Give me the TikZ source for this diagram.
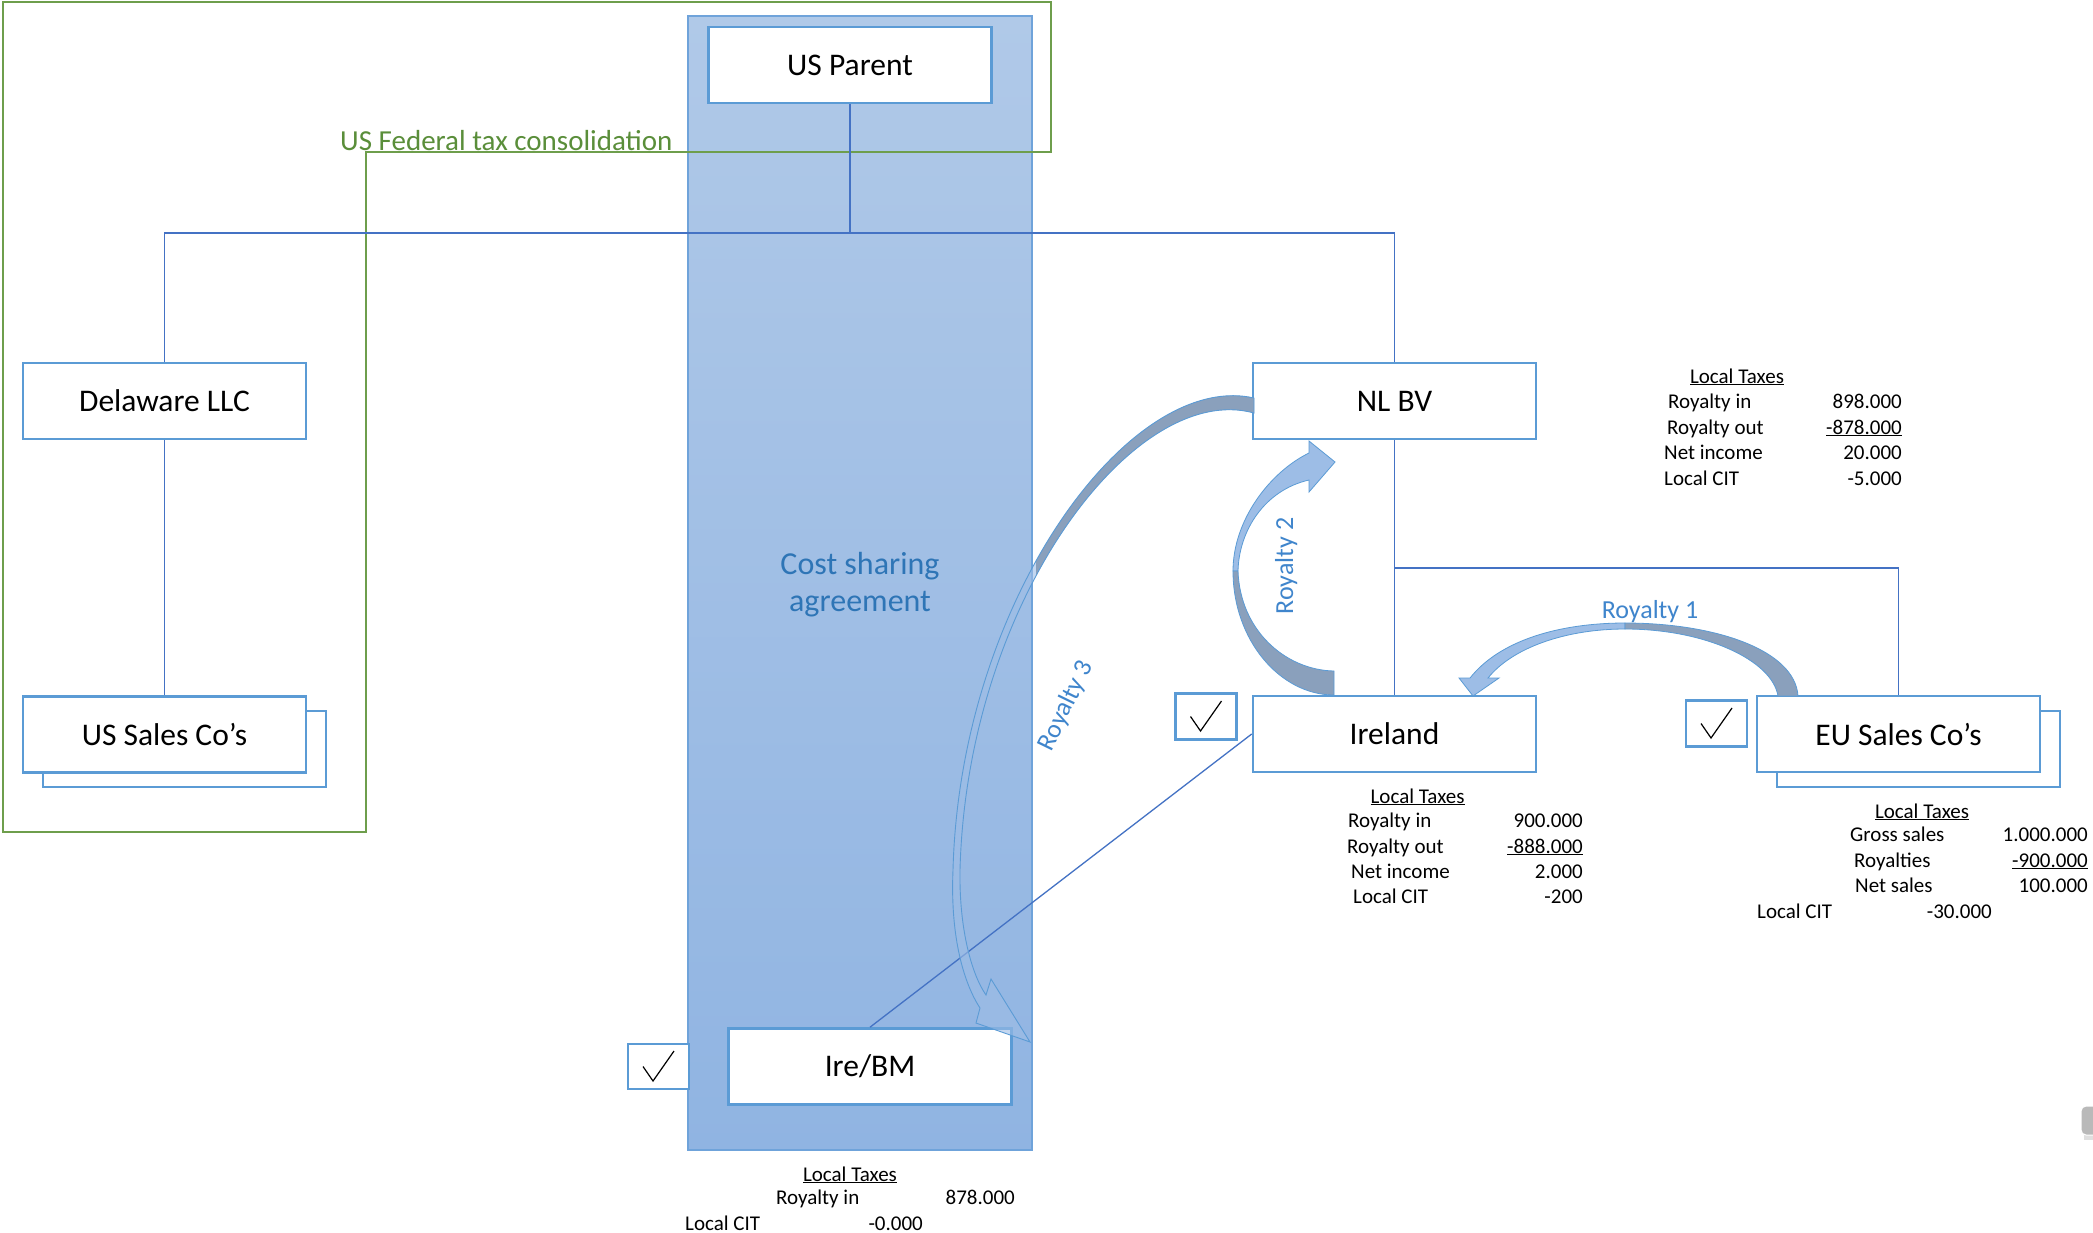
\documentclass[tikz,border=0pt]{standalone}
\usepackage{fontspec}
\setmainfont{Carlito}
\usetikzlibrary{calc}
\definecolor{boxblue}{HTML}{5B9BD5}
\definecolor{lineblue}{HTML}{4472C4}
\definecolor{grnline}{HTML}{6E9E4C}
\definecolor{grntext}{HTML}{5A8E3A}
\definecolor{colTop}{HTML}{B0C9E8}
\definecolor{colBot}{HTML}{90B4E2}
\definecolor{colEdge}{HTML}{6FA3DA}
\definecolor{arrLight}{HTML}{9DBDE6}
\definecolor{arrDark}{HTML}{8AA0BC}
\definecolor{arrEdge}{HTML}{5B9BD5}
\definecolor{txtblue}{HTML}{2E75B6}
\definecolor{roytxt}{HTML}{3F85CC}
\begin{document}
\begin{tikzpicture}[x=1pt,y=-1pt,
  entity/.style={draw=boxblue, line width=2.6pt, fill=white, minimum width=283pt, minimum height=76pt, inner sep=0pt, font=\fontsize{31.5}{36}\selectfont},
  chk/.style={draw=boxblue, line width=2.6pt, fill=white, minimum width=61pt, minimum height=46pt, inner sep=0pt},
  conn/.style={draw=lineblue, line width=1.3pt},
  tbl/.style={font=\fontsize{21}{25}\selectfont, inner sep=0pt},
  roy/.style={text=roytxt, font=\fontsize{26}{30}\selectfont, inner sep=0pt},
  arrowpart/.style={draw=arrEdge, line width=0.8pt}]
\clip (0,0) rectangle (2093,1232);
\fill[white] (0,0) rectangle (2093,1232);

% cost sharing column
\shade[top color=colTop, bottom color=colBot] (688,16) rectangle (1032,1150);
\draw[colEdge, line width=1.2pt] (688,16) rectangle (1032,1150);
\node[text=txtblue, align=center, font=\fontsize{32}{37}\selectfont] (csa) at (860,585) {Cost sharing\\agreement};

% green consolidation outline
\draw[grnline, line width=1.5pt] (3,2) -- (1051,2) -- (1051,152) -- (366,152) -- (366,832) -- (3,832) -- cycle;
\node[text=grntext, font=\fontsize{29}{33}\selectfont, anchor=base west, inner sep=0pt] (fed) at (340,150) {US Federal tax consolidation};

% shadow copies
\draw[boxblue, line width=2.6pt, fill=white] (43,711) rectangle (326,787);
\draw[boxblue, line width=2.6pt, fill=white] (1777,711) rectangle (2060,787);

% entities
\node[entity] (usp) at (850,65) {US Parent};
\node[entity] (del) at (164.5,401) {Delaware LLC};
\node[entity] (uss) at (164.5,734.5) {US Sales Co’s};
\node[entity] (nl) at (1394.5,401) {NL BV};
\node[entity] (ire) at (1394.5,734) {Ireland};
\node[entity] (eu) at (1898.5,734) {EU Sales Co’s};
\node[entity] (bm) at (870,1066.5) {Ire/BM};

% connectors
\coordinate (bus) at (850,233);
\coordinate (eubus) at (1898.5,568);
\draw[conn] (usp.south) -- (bus);
\draw[conn] (del.north) -- (del.north |- bus) -- (nl.north |- bus) -- (nl.north);
\draw[conn] (del.south) -- (uss.north);
\draw[conn] (nl.south) -- (ire.north);
\draw[conn] (nl.south |- eubus) -- (eubus) -- (eu.north);
\draw[conn] (ire.west) -- (bm.north);

% check boxes
\node[chk] (cire) at (1206,716.5) {};
\node[chk] (ceu) at (1716.5,723.5) {};
\node[chk, minimum height=45pt] (cbm) at (658.5,1066.5) {};
\foreach \c in {cire,ceu,cbm}{
  \draw[black, line width=1.2pt] ($(\c)+(-15.5,0)$) -- ++(10,14.5) -- ++(21,-30);
}

% Royalty 1 (EU -> Ireland)
\fill[arrLight, arrowpart] (1470,678) .. controls (1500,640) and (1560,623) .. (1625,623) -- (1625,629) .. controls (1565,629) and (1512,648) .. (1488,678) -- (1499,678) -- (1473,696) -- (1459,678) -- cycle;
\fill[arrDark, arrowpart] (1625,623) .. controls (1715,623) and (1795,650) .. (1798,696) -- (1778,696) .. controls (1772,660) and (1705,629) .. (1625,629) -- cycle;
\node[roy, anchor=base] (r1) at (1650,618) {Royalty 1};

% Royalty 2 (Ireland -> NL BV)
\fill[arrLight, arrowpart] (1309,453) .. controls (1270,472) and (1233,520) .. (1233,571) -- (1238,571) .. controls (1239,530) and (1265,490) .. (1309,480) -- (1309,492) -- (1335,462) -- (1309,441) -- cycle;
\fill[arrDark, arrowpart] (1233,571) .. controls (1233,640) and (1280,695) .. (1334,695) -- (1334,671) .. controls (1285,670) and (1240,630) .. (1238,571) -- cycle;
\node[roy, anchor=base, rotate=90] (r2) at (1293,566) {Royalty 2};

% Royalty 3 (NL BV -> Ire/BM)
\path[save path=\rthree] (1254,398) .. controls (1130,370) and (960,600) .. (953,870) .. controls (950,940) and (965,985) .. (980,1008) -- (976,1023) -- (1030,1042) -- (991,979) -- (986,995) .. controls (972,975) and (959,930) .. (960,870) .. controls (967,600) and (1135,380) .. (1254,413) -- cycle;
\fill[arrLight, fill opacity=0.6, use path=\rthree];
\begin{scope}
\clip (1036,380) rectangle (1270,576);
\fill[arrDark, use path=\rthree];
\end{scope}
\draw[arrEdge, line width=0.9pt, use path=\rthree];
\node[roy, rotate=64] (r3) at (1066,706) {Royalty 3};

% NL BV local taxes
\node[tbl, anchor=base] (nlh) at (1737,383) {\underline{Local Taxes}};
\node[tbl, anchor=base west] (nla) at (1668,408) {Royalty in};
\node[tbl, anchor=base west] (nlb) at (1667,434) {Royalty out};
\node[tbl, anchor=base west] (nlc) at (1664,459) {Net income};
\node[tbl, anchor=base west] (nld) at (1664,485) {Local CIT};
\node[tbl, anchor=base east] (nlva) at (1902,408) {898.000};
\node[tbl, anchor=base east] (nlvb) at (1902,434) {\underline{-878.000}};
\node[tbl, anchor=base east] (nlvc) at (1902,459) {20.000};
\node[tbl, anchor=base east] (nlvd) at (1902,485) {-5.000};

% Ireland local taxes
\node[tbl, anchor=base] (irh) at (1417.6,803) {\underline{Local Taxes}};
\node[tbl, anchor=base west] (ira) at (1348,827) {Royalty in};
\node[tbl, anchor=base west] (irb) at (1347,853) {Royalty out};
\node[tbl, anchor=base west] (irc) at (1351,878) {Net income};
\node[tbl, anchor=base west] (ird) at (1353,903.5) {Local CIT};
\node[tbl, anchor=base east] (irva) at (1583,827) {900.000};
\node[tbl, anchor=base east] (irvb) at (1583,853) {\underline{-888.000}};
\node[tbl, anchor=base east] (irvc) at (1583,878) {2.000};
\node[tbl, anchor=base east] (irvd) at (1583,903.5) {-200};

% EU local taxes
\node[tbl, anchor=base] (euh) at (1922,818) {\underline{Local Taxes}};
\node[tbl, anchor=base west] (eua) at (1850,841) {Gross sales};
\node[tbl, anchor=base west] (eub) at (1854,867) {Royalties};
\node[tbl, anchor=base west] (euc) at (1855,892.5) {Net sales};
\node[tbl, anchor=base west] (eud) at (1757,918) {Local CIT};
\node[tbl, anchor=base east] (euva) at (2088,841) {1.000.000};
\node[tbl, anchor=base east] (euvb) at (2088,867) {\underline{-900.000}};
\node[tbl, anchor=base east] (euvc) at (2088,892.5) {100.000};
\node[tbl, anchor=base east] (euvd) at (1992,918) {-30.000};

% Ire/BM local taxes
\node[tbl, anchor=base] (bmh) at (850,1181) {\underline{Local Taxes}};
\node[tbl, anchor=base west] (bma) at (776,1204) {Royalty in};
\node[tbl, anchor=base east] (bmva) at (1015,1204) {878.000};
\node[tbl, anchor=base west] (bmb) at (685,1230) {Local CIT};
\node[tbl, anchor=base east] (bmvb) at (923,1230) {-0.000};

% small grey artefact at right edge
\fill[gray!25] (2084,1110) rectangle (2100,1140);
\fill[gray!55, draw=white, line width=1pt, rounded corners=5pt] (2081,1106) rectangle (2100,1135);
\end{tikzpicture}
\end{document}
